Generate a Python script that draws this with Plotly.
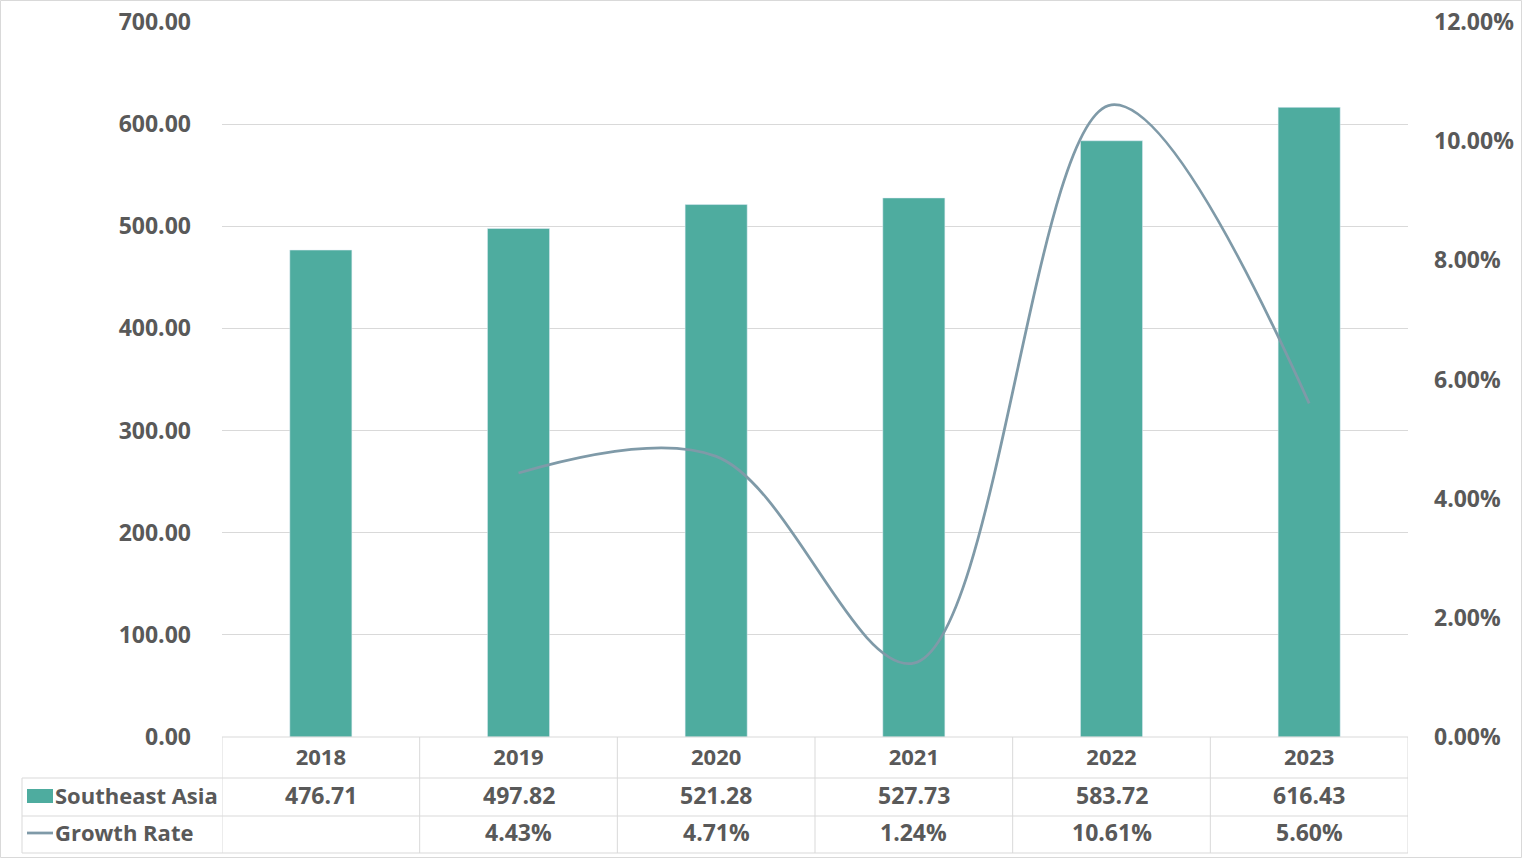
import plotly.graph_objects as go

years = ["2018", "2019", "2020", "2021", "2022", "2023"]
sea_values = [476.71, 497.82, 521.28, 527.73, 583.72, 616.43]
growth_rate = [None, 4.43, 4.71, 1.24, 10.61, 5.60]  # percent
left_ticks = [0, 100, 200, 300, 400, 500, 600, 700]
right_ticks = [0, 0.02, 0.04, 0.06, 0.08, 0.10, 0.12]

BAR_COLOR = "#4EAC9F"
LINE_COLOR = "#7F9AA8"
TEXT_COLOR = "#595959"
GRID_COLOR = "#D9D9D9"
FONT = "Open Sans"
FSIZE = 23

W, H = 1523, 859
ML, MR, MT, MB = 222, 115, 22, 122
PW, PH = W - ML - MR, H - MT - MB


def px_x(x):
    return (x - ML) / PW


def px_y(y):
    return (H - MB - y) / PH


growth_frac = [None if g is None else g / 100 for g in growth_rate]

fig = go.Figure()
fig.add_trace(go.Bar(x=years, y=sea_values, marker_color=BAR_COLOR, name="Southeast Asia",
                     showlegend=False))
fig.add_trace(go.Scatter(x=years, y=growth_frac, mode="lines", line=dict(color=LINE_COLOR, width=2.75,
                         shape="spline", smoothing=1.0), yaxis="y2", name="Growth Rate",
                         showlegend=False, connectgaps=False))

tickfont = dict(family=FONT, size=FSIZE, color=TEXT_COLOR, weight="bold")

fig.update_layout(
    width=W, height=H,
    margin=dict(l=ML, r=MR, t=MT, b=MB, autoexpand=False),
    paper_bgcolor="white", plot_bgcolor="white",
    bargap=0.686,
    xaxis=dict(type="category", range=[-0.5, 5.5], showgrid=False, showline=False,
               tickfont=dict(family=FONT, size=22, color=TEXT_COLOR, weight="bold"),
               ticks="", ticklabelstandoff=5, automargin=False),
    yaxis=dict(range=[0, 700], tickvals=left_ticks, tickformat=".2f", showgrid=True,
               gridcolor=GRID_COLOR, gridwidth=1, zeroline=False, showline=False,
               tickfont=tickfont, ticklabelstandoff=30, automargin=False),
    yaxis2=dict(range=[0, 0.12], tickvals=right_ticks, tickformat=".2%", overlaying="y",
                side="right", showgrid=False, zeroline=False, showline=False,
                tickfont=tickfont, ticklabelstandoff=25, automargin=False),
)

shapes = []
line_style = dict(color=GRID_COLOR, width=1)
# outer chart border
shapes.append(dict(type="rect", xref="paper", yref="paper", x0=px_x(0.5), x1=px_x(W - 1.5),
                   y0=px_y(H - 1.5), y1=px_y(0.5), line=line_style, layer="below"))
# table horizontal lines
shapes.append(dict(type="line", xref="paper", yref="paper", x0=0, x1=1, y0=px_y(737), y1=px_y(737),
                   line=line_style))
for yy in [778, 816, 853]:
    shapes.append(dict(type="line", xref="paper", yref="paper", x0=px_x(22), x1=1,
                       y0=px_y(yy), y1=px_y(yy), line=line_style))
# table vertical lines
shapes.append(dict(type="line", xref="paper", yref="paper", x0=px_x(22), x1=px_x(22),
                   y0=px_y(778), y1=px_y(853), line=line_style))
for i in range(len(years) + 1):
    shapes.append(dict(type="line", xref="x", yref="paper", x0=i - 0.5, x1=i - 0.5,
                       y0=px_y(737), y1=px_y(853), line=line_style))
# legend keys
shapes.append(dict(type="rect", xref="paper", yref="paper", x0=px_x(27), x1=px_x(53),
                   y0=px_y(803), y1=px_y(789), fillcolor=BAR_COLOR, line=dict(width=0)))
shapes.append(dict(type="line", xref="paper", yref="paper", x0=px_x(27), x1=px_x(53),
                   y0=px_y(833), y1=px_y(833), line=dict(color=LINE_COLOR, width=2.75)))

annotations = []
lfont = dict(family=FONT, size=22, color=TEXT_COLOR, weight="bold")
afont = dict(family=FONT, size=FSIZE, color=TEXT_COLOR, weight="bold")
annotations.append(dict(text="Southeast Asia", xref="paper", yref="paper", x=px_x(53), y=px_y(795),
                        xanchor="left", yanchor="middle", showarrow=False, font=lfont))
annotations.append(dict(text="Growth Rate", xref="paper", yref="paper", x=px_x(53), y=px_y(832),
                        xanchor="left", yanchor="middle", showarrow=False, font=lfont))
for i, (v, g) in enumerate(zip(sea_values, growth_rate)):
    annotations.append(dict(text=f"{v:.2f}", xref="x", yref="paper", x=i, y=px_y(795),
                            xanchor="center", yanchor="middle", showarrow=False, font=afont))
    if g is not None:
        annotations.append(dict(text=f"{g:.2f}%", xref="x", yref="paper", x=i, y=px_y(832),
                                xanchor="center", yanchor="middle", showarrow=False, font=afont))

fig.update_layout(shapes=shapes, annotations=annotations)
fig.write_html("out.html")
